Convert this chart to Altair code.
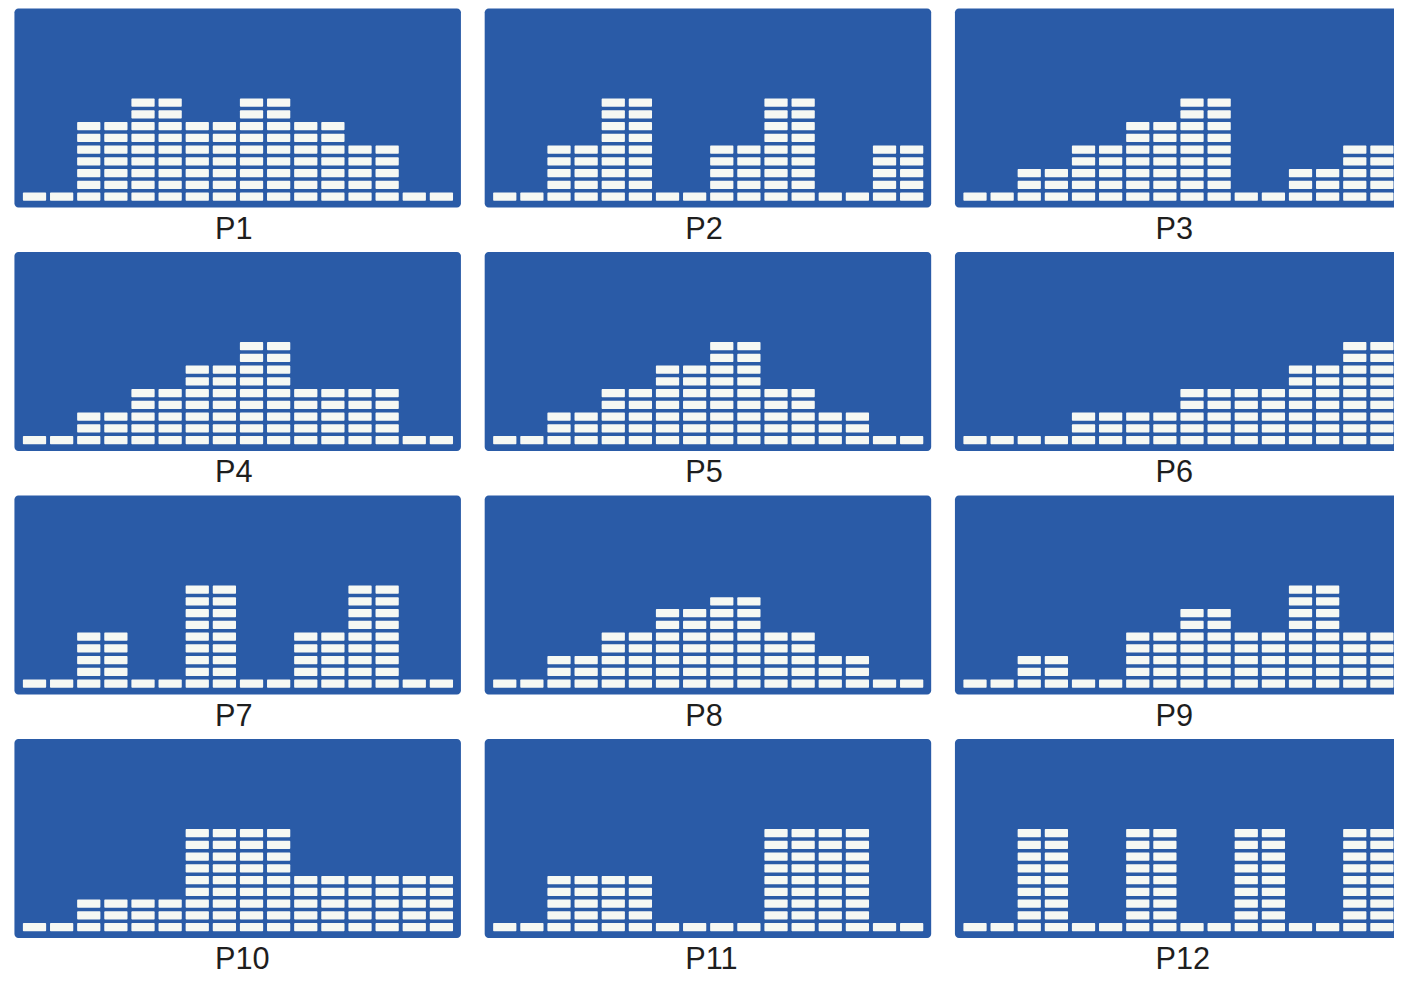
import altair as alt
import pandas as pd

labels = ["P1", "P2", "P3", "P4", "P5", "P6", "P7", "P8", "P9", "P10", "P11", "P12"]

p1 = [1, 1, 7, 7, 9, 9, 7, 7, 9, 9, 7, 7, 5, 5, 1, 1]
p2 = [1, 1, 5, 5, 9, 9, 1, 1, 5, 5, 9, 9, 1, 1, 5, 5]
p3 = [1, 1, 3, 3, 5, 5, 7, 7, 9, 9, 1, 1, 3, 3, 5, 5]
p4 = [1, 1, 3, 3, 5, 5, 7, 7, 9, 9, 5, 5, 5, 5, 1, 1]
p5 = [1, 1, 3, 3, 5, 5, 7, 7, 9, 9, 5, 5, 3, 3, 1, 1]
p6 = [1, 1, 1, 1, 3, 3, 3, 3, 5, 5, 5, 5, 7, 7, 9, 9]
p7 = [1, 1, 5, 5, 1, 1, 9, 9, 1, 1, 5, 5, 9, 9, 1, 1]
p8 = [1, 1, 3, 3, 5, 5, 7, 7, 8, 8, 5, 5, 3, 3, 1, 1]
p9 = [1, 1, 3, 3, 1, 1, 5, 5, 7, 7, 5, 5, 9, 9, 5, 5]
p10 = [1, 1, 3, 3, 3, 3, 9, 9, 9, 9, 5, 5, 5, 5, 5, 5]
p11 = [1, 1, 5, 5, 5, 5, 1, 1, 1, 1, 9, 9, 9, 9, 1, 1]
p12 = [1, 1, 9, 9, 1, 1, 9, 9, 1, 1, 9, 9, 1, 1, 9, 9]

heights = [p1, p2, p3, p4, p5, p6, p7, p8, p9, p10, p11, p12]

rows = []
for name, hs in zip(labels, heights):
    for col, h in enumerate(hs):
        for level in range(h):
            rows.append({"panel": name, "col": col, "level": level})
df = pd.DataFrame(rows)

BLUE = "#2a5ba7"
BLOCK = "#f6f8f3"


def panel(name):
    return (
        alt.Chart(df)
        .transform_filter(alt.datum.panel == name)
        .transform_calculate(col2="datum.col + 0.857", level2="datum.level + 0.7")
        .mark_rect(color=BLOCK, clip=True, cornerRadius=1)
        .encode(
            x=alt.X("col:Q", scale=alt.Scale(domain=[-0.33, 16.13], nice=False, zero=False), axis=None),
            x2="col2:Q",
            y=alt.Y("level:Q", scale=alt.Scale(domain=[-0.53, 16.4], nice=False, zero=False), axis=None),
            y2="level2:Q",
        )
        .properties(
            width=451,
            height=201,
            title=alt.TitleParams(
                text=name,
                orient="bottom",
                anchor="start",
                dx=203,
                offset=8,
                baseline="top",
                fontSize=31,
                font="Liberation Sans",
                fontWeight="normal",
                color="#1e1e1e",
            ),
        )
    )


grid_rows = []
for r in range(4):
    charts = [panel(labels[r * 3 + c]) for c in range(3)]
    grid_rows.append(alt.hconcat(*charts, spacing=22))

chart = (
    alt.vconcat(*grid_rows, spacing=5)
    .properties(padding={"left": 5, "top": -6, "right": -8, "bottom": -3}, background="white")
    .configure_view(fill=BLUE, stroke="transparent", cornerRadius=4)
)

chart.save("out.html", embed_options={"renderer": "svg", "actions": False})
